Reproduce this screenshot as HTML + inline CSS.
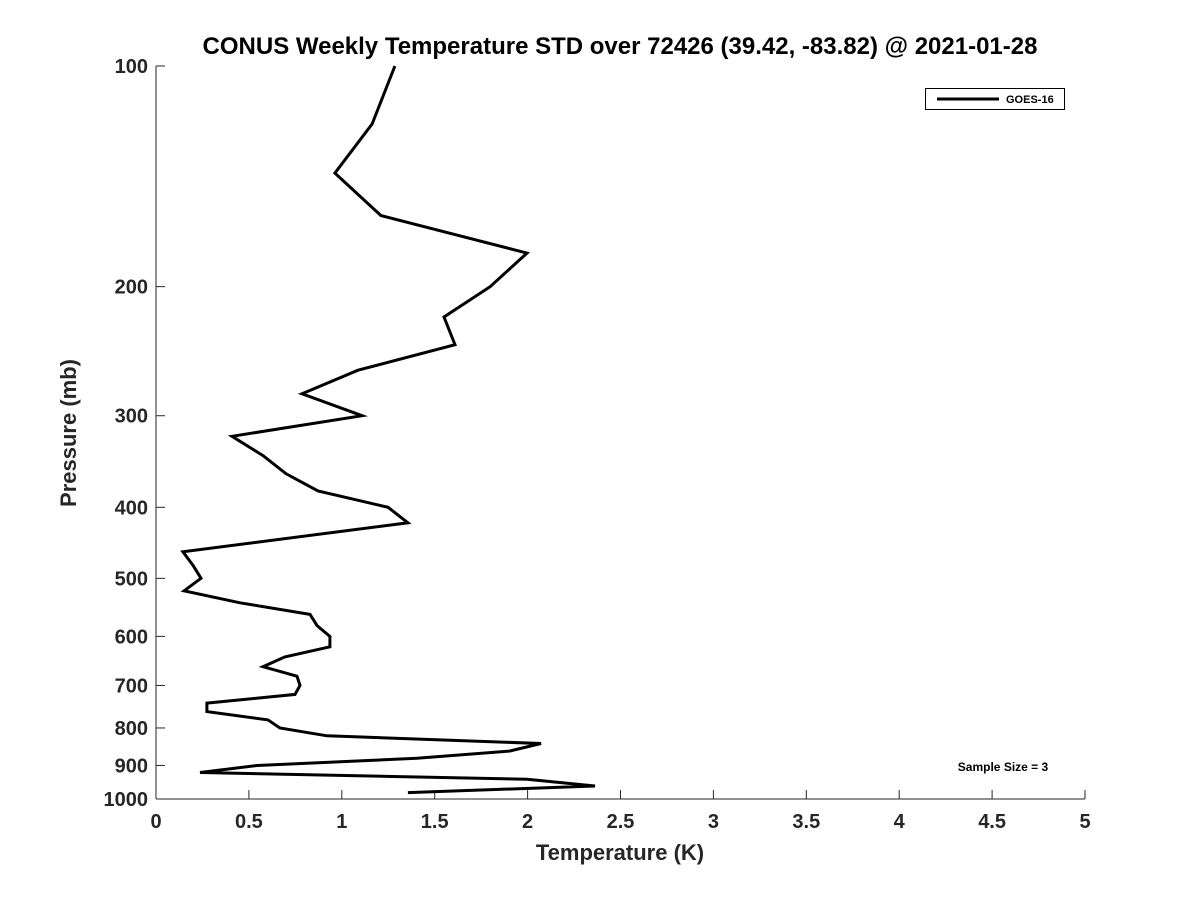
<!DOCTYPE html>
<html><head><meta charset="utf-8"><style>
html,body{margin:0;padding:0;background:#fff;}
svg text{font-family:"Liberation Sans","DejaVu Sans",sans-serif;font-weight:bold;fill:#262626;}
</style></head><body>
<svg id="chart" width="1200" height="900" xmlns="http://www.w3.org/2000/svg">
<rect width="1200" height="900" fill="#fff"/>
<text x="620" y="54" text-anchor="middle" font-size="24" style="fill:#000">CONUS Weekly Temperature STD over 72426 (39.42, -83.82) @ 2021-01-28</text>
<g id="axes"></g>
<path id="profile" fill="none" stroke="#000" stroke-width="3" stroke-linejoin="miter"/>
<g>
<rect x="925.5" y="88.5" width="139" height="21" fill="#fff" stroke="#000" stroke-width="1"/>
<line x1="937" y1="99" x2="999" y2="99" stroke="#000" stroke-width="3"/>
<text x="1006" y="103" font-size="11" style="fill:#000">GOES-16</text>
</g>
<text x="1003" y="771" text-anchor="middle" font-size="12" style="fill:#000">Sample Size = 3</text>
<text x="620" y="860" text-anchor="middle" font-size="22">Temperature (K)</text>
<text transform="translate(76,433) rotate(-90)" text-anchor="middle" font-size="22">Pressure (mb)</text>
</svg>
<script>
const pressures = [100,120,140,160,180,200,220,240,260,280,300,320,340,360,380,400,420,460,480,500,520,540,560,580,600,620,640,660,680,700,720,740,760,780,800,820,840,860,880,900,920,940,960,980];
const temps = [1.286,1.163,0.963,1.211,1.997,1.798,1.550,1.609,1.087,0.786,1.109,0.409,0.576,0.700,0.872,1.249,1.356,0.145,0.199,0.242,0.151,0.452,0.829,0.867,0.936,0.936,0.694,0.576,0.759,0.775,0.748,0.274,0.274,0.603,0.667,0.920,2.072,1.905,1.405,0.544,0.237,1.997,2.363,1.356];
const xTicks = [0,0.5,1,1.5,2,2.5,3,3.5,4,4.5,5];
const xTickLabels = ["0","0.5","1","1.5","2","2.5","3","3.5","4","4.5","5"];
const yTicks = [100,200,300,400,500,600,700,800,900,1000];
const yTickLabels = ["100","200","300","400","500","600","700","800","900","1000"];
const X0=156,X1=1085,Y0=66,Y1=799;
function xs(v){return X0+(v-0)/(5-0)*(X1-X0);}
function ys(p){return Y0+(Math.log10(p)-2)/(3-2)*(Y1-Y0);}
const NS="http://www.w3.org/2000/svg";
const ax=document.getElementById('axes');
function mk(t,a){const e=document.createElementNS(NS,t);for(const k in a)e.setAttribute(k,a[k]);return e;}
const yl=mk('line',{x1:X0,y1:Y0,x2:X0,y2:Y1,stroke:'#262626','stroke-width':1});


ax.appendChild(yl);
const xl=mk('line',{x1:X0,y1:Y1,x2:X1,y2:Y1,stroke:'#262626','stroke-width':1});


ax.appendChild(xl);
xTicks.forEach((v,i)=>{
  const x=xs(v);
  const t=mk('line',{x1:x,y1:Y1,x2:x,y2:Y1-9,stroke:'#262626','stroke-width':1});
  
  
  ax.appendChild(t);
  const l=mk('text',{x:x,y:Y1+29,'text-anchor':'middle','font-size':20});
  
  
  l.textContent=xTickLabels[i];ax.appendChild(l);
});
yTicks.forEach((p,i)=>{
  const y=ys(p);
  const t=mk('line',{x1:X0,y1:y,x2:X0+9,y2:y,stroke:'#262626','stroke-width':1});
  
  
  ax.appendChild(t);
  const l=mk('text',{x:X0-8,y:y+7,'text-anchor':'end','font-size':20});
  
  
  l.textContent=yTickLabels[i];ax.appendChild(l);
});
let d='';
pressures.forEach((p,i)=>{d+=(i?'L':'M')+xs(temps[i]).toFixed(1)+','+ys(p).toFixed(1);});
document.getElementById('profile').setAttribute('d',d);
</script>
</body></html>
